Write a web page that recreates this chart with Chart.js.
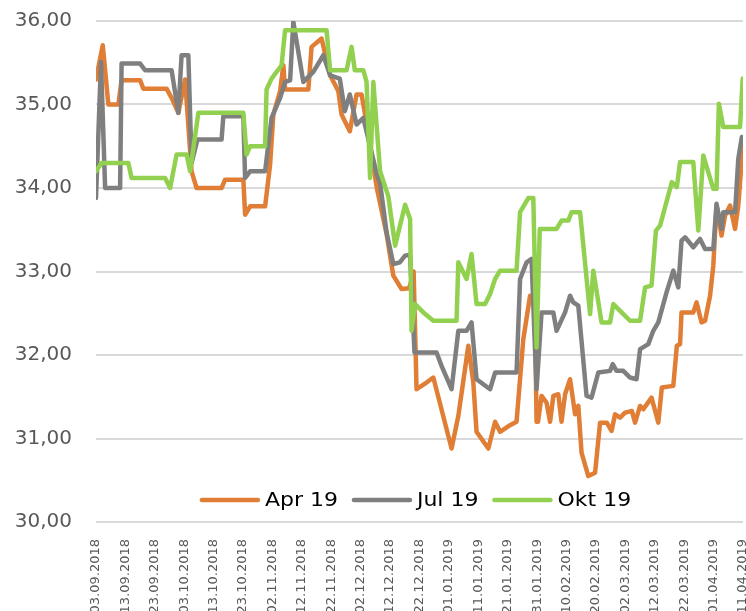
<!DOCTYPE html>
<html>
<head>
<meta charset="utf-8">
<script src="https://cdn.jsdelivr.net/npm/chart.js@4.4.1/dist/chart.umd.min.js"></script>
<style>
  html, body { margin: 0; padding: 0; background: #fff; overflow: hidden; }
</style>
</head>
<body>
<canvas id="chart" width="746" height="611"></canvas>
<script>
// x = days since 03.09.2018, y = price
const seriesNames = ['Apr 19', 'Jul 19', 'Okt 19'];
const seriesColors = ['#E07E35', '#7F7F7F', '#92D050'];

const dateTicks = [
    '03.09.2018', '13.09.2018', '23.09.2018', '03.10.2018', '13.10.2018', '23.10.2018',
    '02.11.2018', '12.11.2018', '22.11.2018', '02.12.2018', '12.12.2018', '22.12.2018',
    '01.01.2019', '11.01.2019', '21.01.2019', '31.01.2019', '10.02.2019', '20.02.2019',
    '02.03.2019', '12.03.2019', '22.03.2019', '01.04.2019', '11.04.2019'
];

const yTicks = [30, 31, 32, 33, 34, 35, 36];

const apr19 = [
    [0, 35.3], [2.3, 35.71], [4.2, 35.0], [7.6, 35.0], [8.7, 35.29], [15, 35.29], [16.1, 35.19],
    [24, 35.19], [25.7, 35.08], [28, 34.9], [30.3, 35.3], [32.5, 34.2], [34.2, 34.0], [42.7, 34.0],
    [43.9, 34.1], [50.1, 34.1], [50.7, 33.68], [52.4, 33.78], [57.5, 33.78], [59.2, 34.28],
    [60.3, 34.88], [62.6, 35.16], [63.7, 35.47], [64.3, 35.18], [72.2, 35.18], [73.3, 35.69],
    [76.7, 35.79], [79.6, 35.35], [82.4, 35.16], [83.5, 34.88], [86.3, 34.68], [88.6, 35.12],
    [90.3, 35.12], [91.5, 34.88], [95.5, 34.0], [98.8, 33.45], [101.1, 32.95], [103.9, 32.79],
    [106.5, 32.8], [108, 33.0], [109, 31.59], [112.4, 31.67], [114.7, 31.73], [120.9, 30.88],
    [123.2, 31.27], [126.6, 32.11], [128.3, 31.67], [129.4, 31.08], [133.4, 30.88], [135.7, 31.2],
    [137.4, 31.08], [140.8, 31.16], [143, 31.2], [145.3, 32.19], [147.6, 32.71], [149.2, 32.71],
    [149.8, 31.2], [150.3, 31.2], [151.5, 31.51], [153.2, 31.43], [154.4, 31.2], [155.5, 31.51],
    [157.2, 31.53], [158.3, 31.2], [159.5, 31.53], [161.2, 31.71], [162.9, 31.29], [164, 31.39],
    [165.1, 30.83], [167.4, 30.55], [169.7, 30.59], [171.4, 31.19], [173.7, 31.19], [175.3, 31.09],
    [176.5, 31.29], [178.2, 31.25], [179.9, 31.31], [182.2, 31.33], [183.3, 31.19], [185, 31.39],
    [186.1, 31.35], [188.9, 31.49], [191.2, 31.19], [192.4, 31.61], [196.3, 31.63], [197.5, 32.11],
    [198.6, 32.13], [199.1, 32.51], [203.1, 32.51], [204.2, 32.63], [205.9, 32.39], [207.1, 32.41],
    [208.8, 32.71], [209.9, 33.07], [211, 33.79], [212.7, 33.43], [213.9, 33.67], [215.6, 33.79],
    [217.3, 33.51], [218.4, 33.79], [219.6, 34.35], [220, 34.5]
];

const jul19 = [
    [0, 33.88], [1.7, 35.51], [3.1, 34.0], [8.2, 34.0], [8.7, 35.49], [15, 35.49], [16.7, 35.41],
    [25.7, 35.41], [28, 34.9], [29.1, 35.59], [31.4, 35.59], [32.5, 34.3], [34.5, 34.58],
    [42.7, 34.58], [43.3, 34.86], [50.1, 34.86], [50.7, 34.12], [52.4, 34.2], [57.5, 34.2],
    [59.7, 34.84], [62.6, 35.08], [64.3, 35.27], [66, 35.29], [67.1, 35.99], [70.5, 35.27],
    [73.9, 35.39], [77.3, 35.59], [79.6, 35.35], [82.9, 35.31], [84.6, 34.92], [86.3, 35.12],
    [88.6, 34.76], [90.9, 34.84], [95.5, 34.16], [96.6, 34.06], [98.8, 33.47], [101.1, 33.09],
    [103.3, 33.11], [105.1, 33.19], [106.8, 33.2], [108.3, 32.03], [115.8, 32.03], [117.5, 31.87],
    [120.9, 31.59], [123.2, 32.29], [126, 32.29], [127.7, 32.39], [129.4, 31.71], [134, 31.59],
    [135.7, 31.79], [143, 31.79], [144.2, 32.91], [146.4, 33.11], [148.1, 33.15], [149.8, 31.59],
    [151.5, 32.51], [155.5, 32.51], [156.6, 32.29], [159.5, 32.51], [161.2, 32.71], [162.3, 32.63],
    [164, 32.59], [166.8, 31.51], [168.5, 31.49], [170.8, 31.79], [174.8, 31.81], [175.7, 31.89],
    [177, 31.81], [179.3, 31.81], [181.6, 31.73], [183.8, 31.71], [185, 32.07], [187.8, 32.13],
    [189.5, 32.29], [191.2, 32.39], [194, 32.75], [196.3, 33.01], [198, 32.81], [199.1, 33.37],
    [200.3, 33.41], [203.1, 33.29], [205.4, 33.39], [207.1, 33.27], [209.9, 33.27], [211, 33.81],
    [212.7, 33.51], [213.3, 33.71], [217.3, 33.71], [218.4, 34.35], [219.6, 34.61], [220, 34.6]
];

const okt19 = [
    [0, 34.2], [1.9, 34.3], [11, 34.3], [12.1, 34.12], [23.5, 34.12], [25.2, 34.0], [27.4, 34.4],
    [30.8, 34.4], [32, 34.2], [34.8, 34.9], [50.1, 34.9], [51.2, 34.4], [52.4, 34.5], [57.5, 34.5],
    [58, 35.18], [59.7, 35.31], [63.1, 35.47], [64.3, 35.89], [78.4, 35.89], [79.6, 35.41],
    [85.2, 35.41], [86.9, 35.69], [88, 35.41], [90.9, 35.41], [92, 35.27], [93.2, 34.12],
    [94.3, 35.27], [96.6, 34.2], [99.4, 33.9], [101.7, 33.31], [105.1, 33.8], [106.8, 33.63],
    [107.3, 32.29], [108.5, 32.61], [111.3, 32.51], [114.7, 32.41], [122.6, 32.41], [123.2, 33.11],
    [126, 32.91], [127.7, 33.21], [129.4, 32.61], [132.3, 32.61], [134, 32.73], [135.7, 32.91],
    [137.4, 33.01], [143, 33.01], [144.2, 33.71], [147, 33.88], [148.7, 33.88], [149.8, 32.09],
    [150.9, 33.51], [156.6, 33.51], [158.3, 33.61], [160.6, 33.61], [161.7, 33.71], [164.6, 33.71],
    [168, 32.49], [169.1, 33.01], [171.9, 32.39], [174.8, 32.39], [175.9, 32.61], [178.7, 32.51],
    [181.6, 32.41], [185, 32.41], [186.7, 32.81], [188.9, 32.83], [190.4, 33.49], [191.8, 33.55],
    [195.8, 34.07], [197.5, 34.01], [198.6, 34.31], [203.1, 34.31], [204.8, 33.49], [206.5, 34.39],
    [209.9, 33.99], [211, 33.99], [211.8, 35.01], [213.3, 34.73], [219, 34.73], [219.9, 35.31],
    [220, 35.3]
];

const allSeries = [apr19, jul19, okt19];

// legend drawn inside the plot, near the bottom
const bottomLegend = {
    id: 'bottomLegend',
    afterDraw: (chart) => {
        const { ctx, chartArea } = chart;
        const stretch = 1.1;
        const lineLen = 60, gap = 5, itemGap = 14;
        ctx.save();
        ctx.font = '20px "DejaVu Sans"';
        const widths = seriesNames.map(n => ctx.measureText(n).width * stretch);
        const total = widths.reduce((s, w) => s + lineLen + gap + w, 0) + itemGap * (seriesNames.length - 1);
        let x = (chartArea.left + chartArea.right) / 2 - total / 2 - 4;
        const y = chartArea.bottom - 22;
        seriesNames.forEach((name, i) => {
            ctx.strokeStyle = seriesColors[i];
            ctx.lineWidth = 4.5;
            ctx.lineCap = 'round';
            ctx.beginPath();
            ctx.moveTo(x + 2, y);
            ctx.lineTo(x + lineLen - 2, y);
            ctx.stroke();
            ctx.save();
            ctx.translate(x + lineLen + gap, y);
            ctx.scale(stretch, 1);
            ctx.fillStyle = '#000';
            ctx.textBaseline = 'middle';
            ctx.fillText(name, 0, 1);
            ctx.restore();
            x += lineLen + gap + widths[i] + itemGap;
        });
        ctx.restore();
    }
};

new Chart(document.getElementById('chart'), {
    type: 'line',
    data: {
        datasets: allSeries.map((s, i) => ({
            label: seriesNames[i],
            data: s.map(p => ({ x: p[0], y: p[1] })),
            borderColor: seriesColors[i],
            backgroundColor: seriesColors[i],
            borderWidth: 4.5,
            pointRadius: 0,
            tension: 0,
            borderJoinStyle: 'round',
            borderCapStyle: 'round',
            order: allSeries.length - i
        }))
    },
    options: {
        responsive: false,
        animation: false,
        layout: { padding: { top: 21, right: 3, left: 0, bottom: 0 } },
        plugins: {
            legend: { display: false },
            tooltip: { enabled: false }
        },
        scales: {
            x: {
                type: 'linear',
                min: 0,
                max: 220,
                grid: { display: false },
                border: { display: false },
                ticks: {
                    stepSize: 10,
                    autoSkip: false,
                    maxRotation: 90,
                    minRotation: 90,
                    padding: 9,
                    color: '#595959',
                    font: { family: 'DejaVu Sans', size: 13 },
                    callback: (v) => dateTicks[Math.round(v / 10)]
                },
                afterFit: (scale) => {
                    scale.height = 89;
                    scale.paddingLeft = 0;
                    scale.paddingRight = 0;
                }
            },
            y: {
                min: yTicks[0],
                max: yTicks[yTicks.length - 1],
                grid: { color: '#D9D9D9', lineWidth: 2, drawTicks: false },
                border: { display: false },
                ticks: {
                    stepSize: 1,
                    padding: 24,
                    color: '#595959',
                    font: { family: 'DejaVu Sans', size: 20 },
                    callback: (v) => v.toFixed(2).replace('.', ',')
                },
                afterFit: (scale) => {
                    scale.width = 96;
                    scale.paddingTop = 0;
                    scale.paddingBottom = 0;
                }
            }
        }
    },
    plugins: [bottomLegend]
});
</script>
</body>
</html>
